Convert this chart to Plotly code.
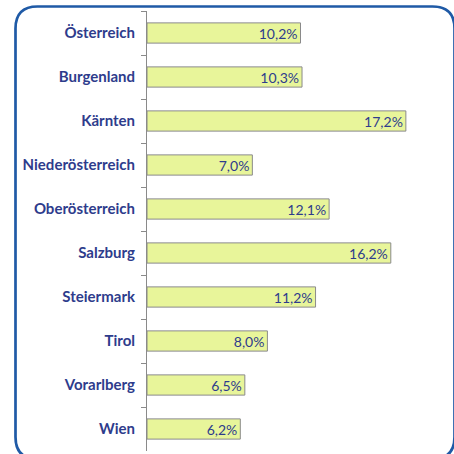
import plotly.graph_objects as go

regions = ["Österreich", "Burgenland", "Kärnten", "Niederösterreich", "Oberösterreich",
           "Salzburg", "Steiermark", "Tirol", "Vorarlberg", "Wien"]
values = [10.2, 10.3, 17.2, 7.0, 12.1, 16.2, 11.2, 8.0, 6.5, 6.2]

NAVY = "#2e3c8c"
W, H = 454, 454
L, R, T, B = 147, 6, 11, 3
pw, ph = W - L - R, H - T - B

def px(x):
    return (x - L) / pw

def py(y):
    return (H - B - y) / ph

fig = go.Figure(go.Bar(
    x=values, y=regions, orientation="h",
    marker=dict(color="#e8f59a", line=dict(color="#8a8a8a", width=1)),
    width=0.46,
    texttemplate="%{x:.1f}%", textposition="inside", insidetextanchor="end",
    constraintext="none",
    textfont=dict(color=NAVY, size=14, family="Lato"),
    cliponaxis=False,
))

# rounded frame
x0, x1, y0, y1, r = 15.5, 454.5, 6.5, 459, 22
path = (f"M {px(x0+r)},{py(y0)} L {px(x1-r)},{py(y0)} "
        f"Q {px(x1)},{py(y0)} {px(x1)},{py(y0+r)} "
        f"L {px(x1)},{py(y1-r)} Q {px(x1)},{py(y1)} {px(x1-r)},{py(y1)} "
        f"L {px(x0+r)},{py(y1)} Q {px(x0)},{py(y1)} {px(x0)},{py(y1-r)} "
        f"L {px(x0)},{py(y0+r)} Q {px(x0)},{py(y0)} {px(x0+r)},{py(y0)} Z")

fig.update_layout(
    width=W, height=H,
    margin=dict(l=L, r=R, t=T, b=B, autoexpand=False),
    paper_bgcolor="white", plot_bgcolor="white",
    separators=",.",
    showlegend=False,
    uniformtext=dict(minsize=13, mode="show"),
    shapes=[dict(type="path", xref="paper", yref="paper", path=path,
                 line=dict(color="#1f5aa6", width=2.7), layer="below")],
    xaxis=dict(range=[0, 20], visible=False, fixedrange=True, automargin=False),
    yaxis=dict(autorange="reversed", type="category", automargin=False,
               showline=True, linecolor="#8a8a8a", linewidth=1,
               ticks="outside", tickson="boundaries", ticklen=5, tickcolor="#8a8a8a",
               ticklabelstandoff=8,
               tickfont=dict(color=NAVY, size=15, family="Lato", weight="bold"),
               showgrid=False),
)

fig.write_html("out.html", config={"displayModeBar": False},
               post_script="document.body.style.margin='0';document.body.style.overflow='hidden';")
